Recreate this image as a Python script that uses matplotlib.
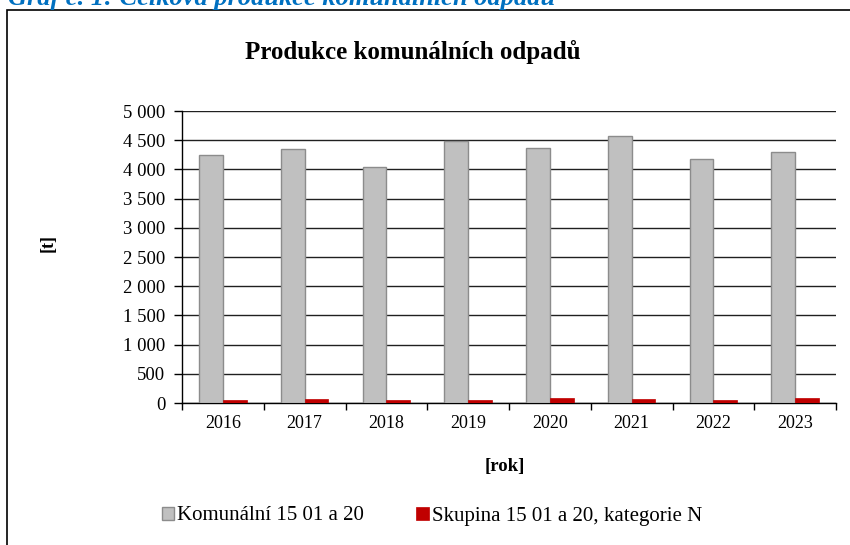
import matplotlib
matplotlib.use("Agg")
import matplotlib.pyplot as plt
from matplotlib.patches import Rectangle
import numpy as np

years = ["2016", "2017", "2018", "2019", "2020", "2021", "2022", "2023"]
komunalni = [4255, 4352, 4042, 4492, 4370, 4578, 4172, 4300]
skupina_n = [58, 60, 57, 56, 78, 77, 58, 78]
series_labels = ["Komunální 15 01 a 20", "Skupina 15 01 a 20, kategorie N"]
yticks = [0, 500, 1000, 1500, 2000, 2500, 3000, 3500, 4000, 4500, 5000]
ytick_labels = ["0", "500", "1 000", "1 500", "2 000", "2 500", "3 000", "3 500",
                "4 000", "4 500", "5 000"]

plt.rcParams['font.family'] = ['Liberation Serif', 'DejaVu Serif']

W, H = 850, 545
fig = plt.figure(figsize=(W / 100, H / 100), dpi=100)
fig.patch.set_facecolor('white')

ax = fig.add_axes([182 / W, (H - 403) / H, 654 / W, 292 / H])

x = np.arange(len(years))
bw = 0.29
ax.bar(x - bw / 2, komunalni, width=bw, color='#C0C0C0', edgecolor='#8C8C8C', linewidth=1.0,
       label=series_labels[0], zorder=3)
ax.bar(x + bw / 2, skupina_n, width=bw, color='#C00000', edgecolor='#C00000', linewidth=0.5,
       label=series_labels[1], zorder=3)

ax.set_xlim(-0.5, len(years) - 0.5)
ax.set_ylim(0, 5000)
ax.set_yticks(yticks)
ax.set_yticklabels(ytick_labels, fontsize=13.5)
ax.yaxis.grid(True, color='#202020', linewidth=1.0, zorder=0)
ax.set_axisbelow(True)

# x ticks at category boundaries, labels at centers
ax.set_xticks(np.arange(-0.5, len(years), 1.0))
ax.set_xticklabels([])
ax.set_xticks(x, minor=True)
ax.set_xticklabels(years, minor=True, fontsize=13)
ax.tick_params(axis='x', which='major', length=5, width=1, direction='out', color='black')
ax.tick_params(axis='x', which='minor', length=0, pad=9)
ax.tick_params(axis='y', length=6, width=1, direction='out', color='black', pad=6)

for s in ['top', 'right']:
    ax.spines[s].set_visible(False)
for s in ['left', 'bottom']:
    ax.spines[s].set_color('black')
    ax.spines[s].set_linewidth(1.0)

fig.text(413 / W, 1 - 52 / H, "Produkce komunálních odpadů", ha='center', va='center',
         fontsize=18, fontweight='bold')
fig.text(48 / W, 1 - 243 / H, "[t]", ha='center', va='center', rotation=90,
         fontsize=13, fontweight='bold')
fig.text(505 / W, 1 - 467 / H, "[rok]", ha='center', va='center',
         fontsize=13.5, fontweight='bold')

leg = fig.legend(loc='center', bbox_to_anchor=(432 / W, 1 - 516 / H), ncol=2, frameon=False,
                 fontsize=15, handlelength=0.6, handleheight=0.6, handletextpad=0.15,
                 columnspacing=2.5)

# outer chart frame (partially visible)
fig.patches.append(Rectangle((7 / W, -0.1), 1.2, 1 - 10 / H + 0.1, transform=fig.transFigure,
                             fill=False, edgecolor='black', linewidth=1.2, zorder=0))

fig.text(8 / W, 1 - 5 / H, "Graf č. 1: Celková produkce komunálních odpadů", ha='left',
         va='baseline', fontsize=19, fontweight='bold', fontstyle='italic', color='#0070C0')

fig.savefig("out.png", dpi=100, facecolor='white')
